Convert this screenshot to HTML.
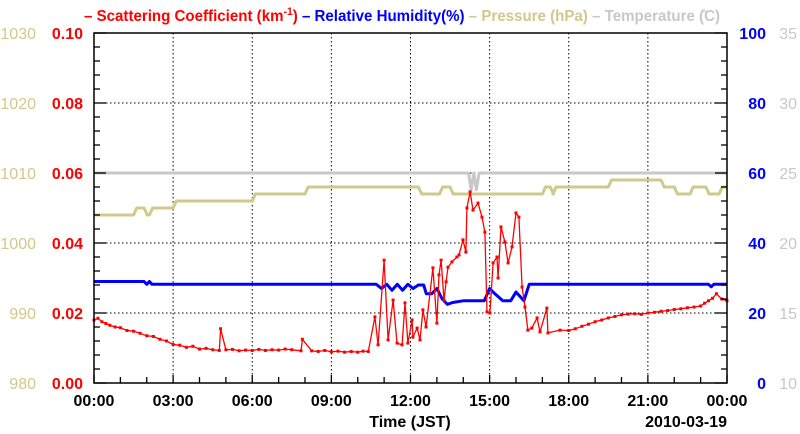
<!DOCTYPE html>
<html><head><meta charset="utf-8"><style>
html,body{margin:0;padding:0;background:#fff;}
svg{display:block;font-family:"Liberation Sans",sans-serif;}
</style></head><body>
<svg id="chart" width="800" height="434" xmlns="http://www.w3.org/2000/svg">
<g id="title" font-size="16" font-weight="bold">
<text x="84" y="21" textLength="636" lengthAdjust="spacingAndGlyphs" fill="#ff0000">– Scattering Coefficient (km<tspan dy="-6" font-size="11">-1</tspan><tspan dy="6">) </tspan><tspan fill="#0000ff">– Relative Humidity(%)</tspan> <tspan fill="#d2c88c">– Pressure (hPa)</tspan> <tspan fill="#c8c8c8">– Temperature (̊C)</tspan></text>
</g>
<g id="grid"></g>
<g id="series"></g>
<g id="axes"></g>
</svg>
<script>
const timesS=[0,0.15,0.3,0.45,0.6,0.8,1,1.25,1.5,1.75,2,2.25,2.5,2.75,3,3.25,3.5,3.75,4,4.25,4.5,4.75,4.8,5,5.25,5.5,5.75,6,6.25,6.5,6.75,7,7.25,7.5,7.85,7.9,8.25,8.5,8.75,9,9.25,9.5,9.75,10,10.2,10.4,10.65,10.77,11.0,11.15,11.34,11.49,11.68,11.79,11.9,12.06,12.09,12.25,12.36,12.47,12.59,12.85,13.0,13.08,13.16,13.27,13.35,13.42,13.57,13.76,13.84,13.99,14.1,14.14,14.26,14.37,14.56,14.71,14.82,14.9,15.01,15.13,15.28,15.32,15.43,15.58,15.7,15.85,16.0,16.11,16.23,16.34,16.45,16.6,16.8,16.91,17.17,17.21,17.67,18,18.25,18.5,18.75,19,19.25,19.5,19.75,20,20.25,20.5,20.75,21,21.25,21.5,21.75,22,22.25,22.5,22.75,23,23.15,23.3,23.45,23.6,23.8,24];
const scatVals=[0.018,0.0185,0.0175,0.017,0.0165,0.016,0.0158,0.015,0.0148,0.0142,0.0135,0.0133,0.0125,0.012,0.011,0.0108,0.0102,0.0105,0.0097,0.0099,0.0095,0.0093,0.0155,0.0095,0.0096,0.0092,0.0094,0.0093,0.0096,0.0093,0.0095,0.0094,0.0097,0.0095,0.0092,0.0125,0.0092,0.009,0.0093,0.0089,0.0091,0.0088,0.009,0.0088,0.0091,0.009,0.0189,0.0109,0.0351,0.0123,0.0237,0.0114,0.0109,0.0229,0.0114,0.018,0.0131,0.0157,0.0123,0.0209,0.016,0.0329,0.0171,0.0309,0.0351,0.0237,0.0289,0.0331,0.0346,0.036,0.0366,0.0409,0.0374,0.05,0.0546,0.0494,0.0514,0.0474,0.0431,0.0203,0.02,0.0343,0.036,0.03,0.0446,0.0403,0.0343,0.0389,0.0486,0.0474,0.0274,0.0217,0.0151,0.0157,0.0186,0.0146,0.0214,0.0143,0.0151,0.015,0.0155,0.0162,0.0168,0.0175,0.018,0.0186,0.019,0.0195,0.0197,0.0198,0.0196,0.02,0.0202,0.0205,0.0207,0.021,0.0212,0.0215,0.0217,0.022,0.0228,0.0235,0.0242,0.0255,0.024,0.0235];
const timesRH=[0,1.9,2.0,2.1,2.2,10.7,10.9,11.1,11.3,11.5,11.7,11.9,12.1,12.3,12.5,12.6,12.8,13.0,13.2,13.4,13.6,14.0,14.5,14.8,15.0,15.2,15.5,15.8,16.0,16.3,16.5,23.3,23.4,23.5,24];
const rhVals=[29,29,28.2,29,28.2,28.2,27,28.2,26.5,28.2,26.5,28.2,27,28,28,25.5,25.5,27,24,22.5,23,23.5,23.5,23.5,27,25.5,23.5,23.5,26,23.5,28.2,28.2,27.5,28.2,28.2];
const stepTimesP=[0,1.5,1.9,2.1,3.0,6.0,8.0,12.3,13.1,13.5,17.0,17.3,17.4,19.5,21.5,22.0,22.6,23.2,23.7];
const presVals=[1004,1005,1004,1005,1006,1007,1008,1007,1008,1007,1008,1007,1008,1009,1008,1007,1008,1007,1008];
const timesT=[0,14.2,14.3,14.4,14.5,14.6,14.7,24];
const tempVals=[25,25,23.8,25,23.8,25,25,25];
const xTickLabels=["00:00","03:00","06:00","09:00","12:00","15:00","18:00","21:00","00:00"];
const scatTicks=["0.00","0.02","0.04","0.06","0.08","0.10"];
const presTicks=["980","990","1000","1010","1020","1030"];
const rhTicks=["0","20","40","60","80","100"];
const tempTicks=["10","15","20","25","30","35"];

const L=94,R=727,T=33,B=383;
const NS="http://www.w3.org/2000/svg";
const X=h=>L+(R-L)*h/24;
const yS=v=>B-(B-T)*v/0.1;
const yP=v=>B-(B-T)*(v-980)/50;
const yRH=v=>B-(B-T)*v/100;
const yT=v=>B-(B-T)*(v-10)/25;
function mk(tag,attrs,parent){const e=document.createElementNS(NS,tag);for(const k in attrs)e.setAttribute(k,attrs[k]);parent.appendChild(e);return e;}
const grid=document.getElementById('grid'),ser=document.getElementById('series'),ax=document.getElementById('axes');
for(let i=1;i<8;i++){const g=mk('line',{x1:X(i*3),x2:X(i*3),y1:T,y2:B,stroke:'#000','stroke-width':1,'stroke-dasharray':'1.5,2.5'},grid);

}
for(let i=1;i<5;i++){const g=mk('line',{x1:L,x2:R,y1:yS(i*0.02),y2:yS(i*0.02),stroke:'#000','stroke-width':1,'stroke-dasharray':'1.5,2.5'},grid);

}
function polyPts(pts,col,w,name){const s=pts.map(p=>p[0].toFixed(1)+','+p[1].toFixed(1)).join(' ');
const p=mk('polyline',{points:s,fill:'none',stroke:col,'stroke-width':w,'stroke-linejoin':'round'},ser);

return p;}
function poly(ts,vs,yf,col,w,name){return polyPts(ts.map((t,i)=>[X(t),yf(vs[i])]),col,w,name);}
function stepPoly(ts,vs,yf,col,w,name){const pts=[];const d=0.12;
ts.forEach((t,i)=>{if(i>0)pts.push([X(t),yf(vs[i-1])]);pts.push([X(i>0?t+d:t),yf(vs[i])]);});
pts.push([X(24),yf(vs[vs.length-1])]);return polyPts(pts,col,w,name);}
poly(timesT,tempVals,yT,'#c8c8c8',3,'temperature-line');
stepPoly(stepTimesP,presVals,yP,'#d2c88c',3,'pressure-line');
poly(timesRH,rhVals,yRH,'#0000ff',3,'humidity-line');
poly(timesS,scatVals,yS,'#ff0000',1.3,'scattering-line');
timesS.forEach((t,i)=>{const m=mk('rect',{x:X(t)-1.5,y:yS(scatVals[i])-1.5,width:3,height:3,fill:'#ff0000'},ser);

});
const frame=mk('rect',{x:L,y:T,width:R-L,height:B-T,fill:'none',stroke:'#000','stroke-width':1.5},ax);


for(let i=0;i<=24;i++){const major=i%3===0;const len=major?8:6;
mk('line',{x1:X(i),x2:X(i),y1:B,y2:B-len,stroke:'#000','stroke-width':1.3},ax);}
for(let i=0;i<=25;i++){const y=B-(B-T)*i/25;const len=i%5===0?12:6;
mk('line',{x1:L,x2:L+len,y1:y,y2:y,stroke:'#000','stroke-width':1.3},ax);
mk('line',{x1:R,x2:R-len,y1:y,y2:y,stroke:'#000','stroke-width':1.3},ax);}
function label(x,y,txt,col,anchor,name){const t=mk('text',{x:x,y:y,fill:col,'text-anchor':anchor,'font-size':16,'font-weight':'bold'},ax);t.textContent=txt;

}
xTickLabels.forEach((s,i)=>label(X(i*3),406,s,'#000','middle','x-tick-label'));
scatTicks.forEach((s,i)=>label(83,yS(i*0.02)+6,s,'#ff0000','end','scattering-tick-label'));
presTicks.forEach((s,i)=>{const t=mk('text',{x:36,y:yP(980+i*10)+6,fill:'#d2c88c','text-anchor':'end','font-size':16},ax);t.textContent=s;

});
rhTicks.forEach((s,i)=>label(766,yRH(i*20)+6,s,'#0000ff','end','humidity-tick-label'));
tempTicks.forEach((s,i)=>{const t=mk('text',{x:797,y:yT(10+i*5)+6,fill:'#c8c8c8','text-anchor':'end','font-size':16},ax);t.textContent=s;

});
label(410,427,'Time (JST)','#000','middle','x-axis-title');
label(727,427,'2010-03-19','#000','end','date-label');
</script>
</body></html>
